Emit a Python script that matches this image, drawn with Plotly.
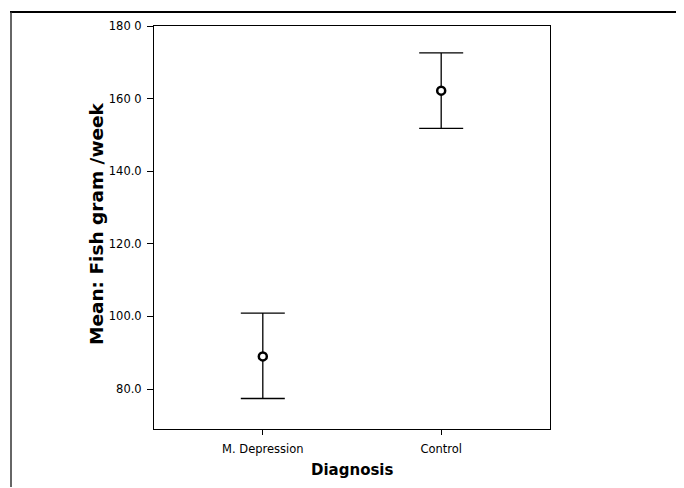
import plotly.graph_objects as go

categories = ["M. Depression", "Control"]
means = [89.0, 162.2]
upper = [100.9, 172.6]
lower = [77.4, 151.8]
ytick_vals = [80, 100, 120, 140, 160, 180]
ytick_text = ["80.0", "100.0", "120.0", "140.0", "160 0", "180 0"]

err_plus = [u - m for u, m in zip(upper, means)]
err_minus = [m - l for m, l in zip(means, lower)]

fig = go.Figure()
fig.add_trace(go.Scatter(
    x=[0, 1], y=means, mode="markers",
    marker=dict(symbol="circle", size=8, color="white",
                line=dict(color="black", width=2.5)),
    error_y=dict(type="data", symmetric=False, array=err_plus,
                 arrayminus=err_minus, color="black", thickness=1.3, width=22),
    showlegend=False,
))

font = "DejaVu Sans, Arial, sans-serif"
# page is offset by 8px body margin: plot area spans x 154..550, y 26..429 on screen
L, R, T, B = 154, 550, 26, 429
W, H = R - L, B - T
fig.update_layout(
    width=676, height=480,
    margin=dict(l=L - 8, r=684 - R, t=T - 8, b=488 - B),
    paper_bgcolor="white", plot_bgcolor="white",
    font=dict(family=font, color="black", size=11.5),
    xaxis=dict(range=[-0.61, 1.61], tickvals=[0, 1], ticktext=categories,
               ticks="outside", ticklen=5, tickcolor="black",
               ticklabelstandoff=4,
               showline=True, linecolor="black", linewidth=1, mirror=True,
               showgrid=False, zeroline=False, tickfont=dict(size=11.5)),
    yaxis=dict(range=[69, 180], tickvals=ytick_vals, ticktext=ytick_text,
               ticks="outside", ticklen=6, tickcolor="black",
               ticklabelstandoff=3,
               showline=True, linecolor="black", linewidth=1, mirror=True,
               showgrid=False, zeroline=False, tickfont=dict(size=11.5)),
    annotations=[
        dict(text="<b>Diagnosis</b>", xref="paper", yref="paper",
             x=(352 - L) / W, y=(B - 470) / H, showarrow=False,
             font=dict(size=15, family=font), xanchor="center", yanchor="middle"),
        dict(text="<b>Mean: Fish gram /week</b>", xref="paper", yref="paper",
             x=(96 - L) / W, y=(B - 224) / H, showarrow=False,
             textangle=-90, font=dict(size=18.5, family=font),
             xanchor="center", yanchor="middle"),
    ],
    shapes=[
        dict(type="line", xref="paper", yref="paper",
             x0=(10 - L) / W, x1=(690 - L) / W,
             y0=(B - 12) / H, y1=(B - 12) / H,
             line=dict(color="black", width=2)),
        dict(type="line", xref="paper", yref="paper",
             x0=(11 - L) / W, x1=(11 - L) / W,
             y0=(B - 12) / H, y1=(B - 487) / H,
             line=dict(color="#333333", width=1.5)),
    ],
)

fig.write_html("out.html")
